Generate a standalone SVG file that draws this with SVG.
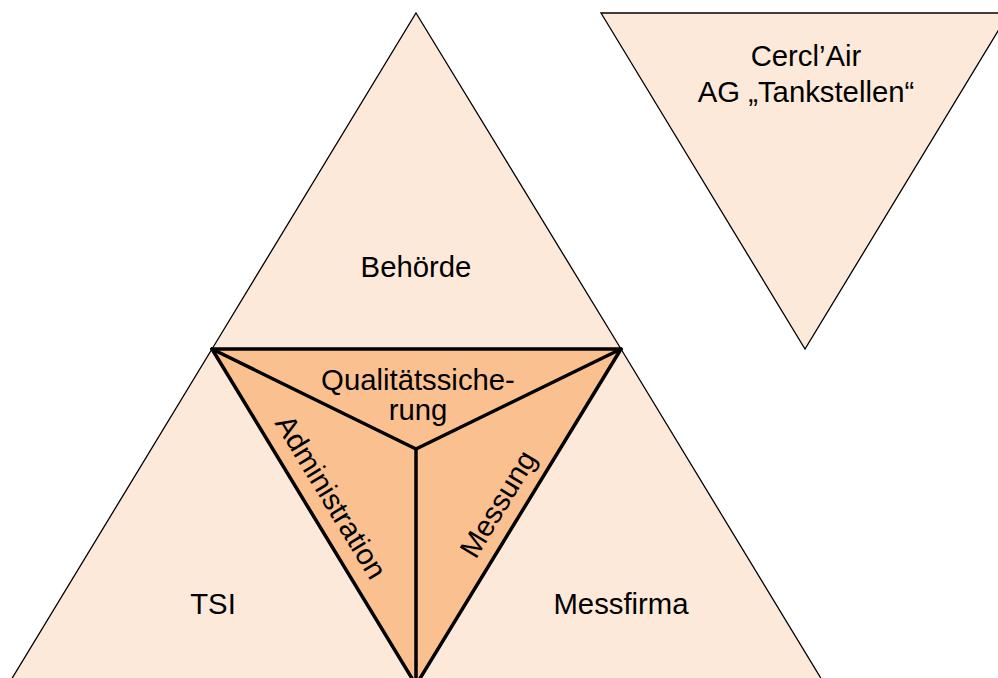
<svg xmlns="http://www.w3.org/2000/svg" width="998" height="678" viewBox="0 0 998 678">
<style>
.light{fill:#FDE9D9;stroke:#000;stroke-width:1.3;stroke-linejoin:miter}
.dark{fill:#FAC090;stroke:none}
.bold{fill:none;stroke:#000;stroke-width:3.5;stroke-linejoin:round;stroke-linecap:round}
text{font-family:"Liberation Sans",Arial,sans-serif;font-size:29.3px;fill:#000;text-anchor:middle}
</style>
<rect width="998" height="678" fill="#fff"/>
<g id="behoerde">
<polygon class="light" points="416,13 621,349 212,349"/>
<text x="416" y="277">Behörde</text>
</g>
<g id="tsi">
<polygon class="light" points="212,349 416,685 8,685"/>
<text x="213" y="614">TSI</text>
</g>
<g id="messfirma">
<polygon class="light" points="621,349 825,685 416,685"/>
<text x="621" y="614">Messfirma</text>
</g>
<g id="cerclair">
<polygon class="light" points="601,13 1009,13 805,349"/>
<text x="806" y="66">Cercl’Air</text>
<text x="806" y="102">AG „Tankstellen“</text>
</g>
<g id="center">
<polygon class="dark" points="212,349 621,349 416,685"/>
</g>
<g id="connectors">
<polygon class="bold" points="212,349 621,349 416,685"/>
<line class="bold" x1="212" y1="349" x2="416" y2="449"/>
<line class="bold" x1="621" y1="349" x2="416" y2="449"/>
<line class="bold" x1="416" y1="449" x2="416" y2="685"/>
</g>
<g id="qualitaet">
<text x="418" y="390">Qualitätssiche-</text>
<text x="418" y="420">rung</text>
</g>
<g id="administration">
<text transform="translate(331,497) rotate(58.7)" y="10">Administration</text>
</g>
<g id="messung">
<text transform="translate(498,504) rotate(-58.7)" y="10">Messung</text>
</g>
</svg>
